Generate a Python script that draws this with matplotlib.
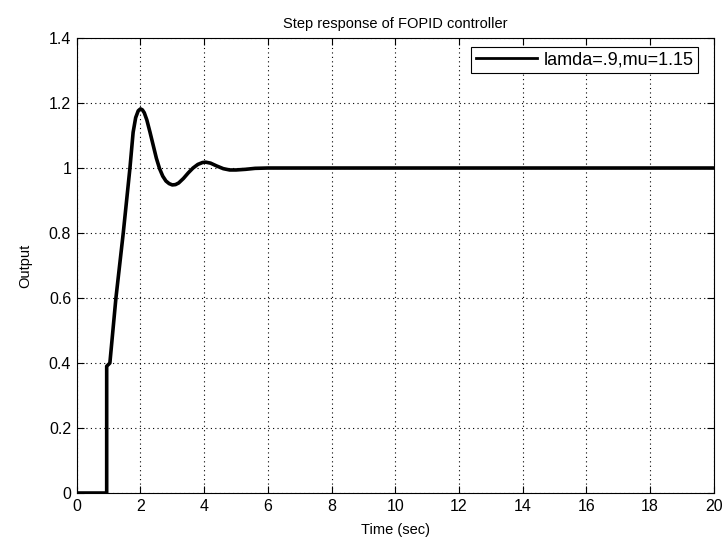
import matplotlib
matplotlib.use("Agg")
import matplotlib.pyplot as plt

# Step response samples (time in seconds, output)
t = [0, 0.94, 0.94, 1.04, 1.23, 1.46, 1.67, 1.77, 1.85, 1.93, 2.0, 2.06, 2.12,
     2.2, 2.3, 2.4, 2.5, 2.6, 2.7, 2.8, 2.9, 3.0, 3.1, 3.2, 3.35, 3.5, 3.65, 3.8,
     3.95, 4.05, 4.2, 4.4, 4.6, 4.8, 5.0, 5.3, 5.6, 6.0, 7.0, 20.0]
y = [0, 0, 0.39, 0.40, 0.60, 0.80, 1.0, 1.11, 1.155, 1.176, 1.182, 1.179, 1.17,
     1.148, 1.11, 1.07, 1.03, 0.998, 0.975, 0.96, 0.952, 0.948, 0.949, 0.954, 0.968,
     0.985, 1.0, 1.011, 1.017, 1.018, 1.015, 1.006, 0.998, 0.994, 0.994, 0.996, 0.999,
     1.0, 1.0, 1.0]

xticks = list(range(0, 21, 2))
yticks = [0, 0.2, 0.4, 0.6, 0.8, 1.0, 1.2, 1.4]
ytick_labels = ["0", "0.2", "0.4", "0.6", "0.8", "1", "1.2", "1.4"]

plt.rcParams['font.family'] = ['Liberation Sans', 'DejaVu Sans']

fig = plt.figure(figsize=(7.24, 5.4), dpi=100)
ax = fig.add_axes([0.106, 0.087, 0.880, 0.8426])

ax.plot(t, y, color='black', linewidth=2.6, label='lamda=.9,mu=1.15')

ax.set_xlim(0, 20)
ax.set_ylim(0, 1.4)
ax.set_xticks(xticks)
ax.set_yticks(yticks)
ax.set_yticklabels(ytick_labels)
ax.tick_params(direction='in', length=5, width=0.8, top=True, right=True,
               labelsize=11.5, pad=4)
ax.grid(True, linestyle=(0, (1, 3)), color='black', linewidth=0.8)
for s in ax.spines.values():
    s.set_linewidth(0.8)

ax.set_title('Step response of FOPID controller', fontsize=10.5, pad=7)
ax.set_xlabel('Time (sec)', fontsize=10.5, labelpad=7)
ax.set_ylabel('Output', fontsize=10.5, labelpad=12)

leg = ax.legend(loc='upper right', bbox_to_anchor=(0.975, 0.98), borderaxespad=0,
                fontsize=13, fancybox=False, framealpha=1, edgecolor='black',
                handlelength=3.4, handletextpad=0.35, borderpad=0.25)
leg.get_frame().set_linewidth(0.8)
for line in leg.get_lines():
    line.set_linewidth(2)

fig.savefig('out.png', dpi=100)
